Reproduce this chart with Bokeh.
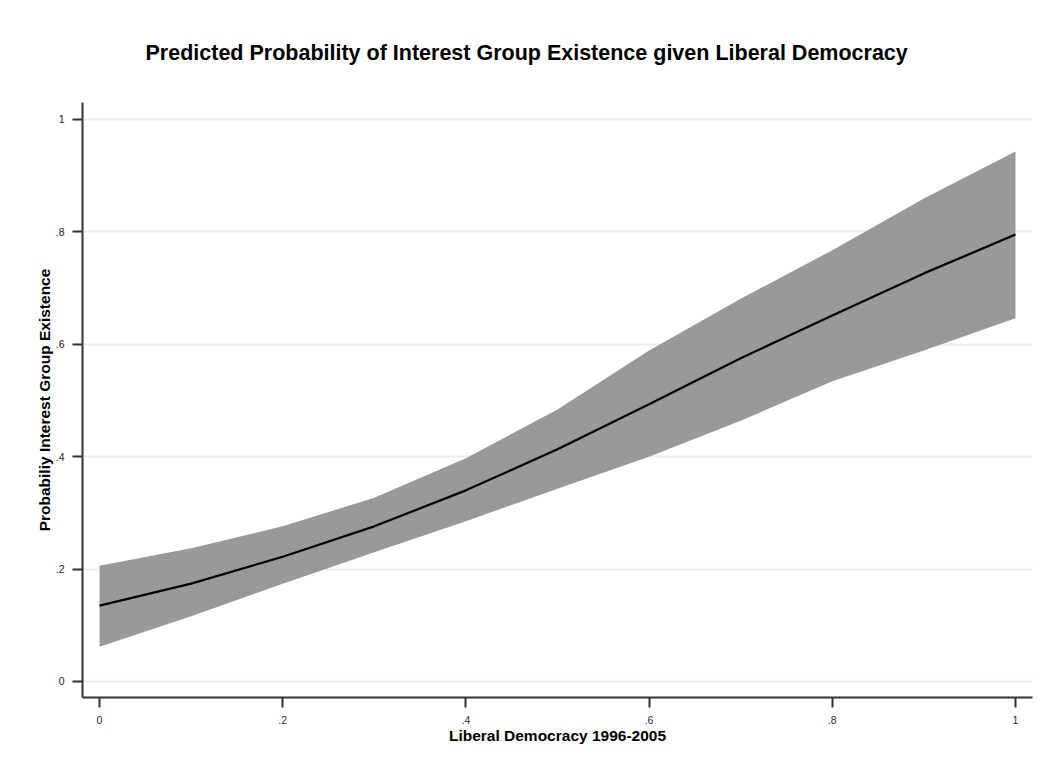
from bokeh.plotting import figure
from bokeh.models import Range1d, FixedTicker, CustomJSTickFormatter, Title
from bokeh.embed import file_html
from bokeh.resources import INLINE

# Data
lib_dem = [0.0, 0.1, 0.2, 0.3, 0.4, 0.5, 0.6, 0.7, 0.8, 0.9, 1.0]
prob_mean = [0.135, 0.174, 0.222, 0.276, 0.340, 0.413, 0.493, 0.575, 0.651, 0.726, 0.795]
prob_upper = [0.206, 0.237, 0.276, 0.327, 0.397, 0.484, 0.589, 0.681, 0.767, 0.859, 0.943]
prob_lower = [0.062, 0.116, 0.174, 0.230, 0.285, 0.343, 0.400, 0.464, 0.534, 0.589, 0.646]
ticks = [0, 0.2, 0.4, 0.6, 0.8, 1.0]

p = figure(width=1040, height=766, output_backend="svg", toolbar_location=None,
           x_range=Range1d(-0.0186, 1.0186), y_range=Range1d(-0.0285, 1.030),
           min_border_left=82, min_border_right=8, min_border_top=102, min_border_bottom=69)
p.outline_line_color = None
p.background_fill_color = "white"
p.border_fill_color = "white"

p.title = Title(text="Predicted Probability of Interest Group Existence given Liberal Democracy",
                align="left", text_font="Liberation Sans", text_font_size="21.5px",
                text_font_style="bold", text_color="black", offset=63, standoff=76)

p.varea(x=lib_dem, y1=prob_lower, y2=prob_upper, fill_color="#999999", fill_alpha=1.0)
p.line(x=lib_dem, y=prob_mean, line_color="black", line_width=2.2)

fmt = CustomJSTickFormatter(code="""
if (tick == 0) return '0';
if (Math.abs(tick - 1) < 1e-9) return '1';
return tick.toFixed(1).replace(/^0/, '');
""")

for ax in (p.xaxis[0], p.yaxis[0]):
    ax.ticker = FixedTicker(ticks=ticks)
    ax.formatter = fmt
    ax.minor_tick_line_color = None
    ax.major_tick_in = 0
    ax.major_tick_out = 10
    ax.axis_line_color = "#333333"
    ax.axis_line_width = 2
    ax.major_tick_line_color = "#333333"
    ax.major_tick_line_width = 2
    ax.major_label_text_font = "Liberation Sans"
    ax.major_label_text_font_size = "10.5px"
    ax.axis_label_text_font = "Liberation Sans"
    ax.axis_label_text_font_size = "15.5px"
    ax.axis_label_text_font_style = "bold"
    ax.axis_label_text_color = "black"

p.xaxis.axis_label = "Liberal Democracy 1996-2005"
p.yaxis.axis_label = "Probabiliy Interest Group Existence"
p.xaxis.major_label_text_color = "#1e2a5c"
p.yaxis.major_label_text_color = "#222222"
p.xaxis.major_label_standoff = 8
p.xaxis.axis_label_standoff = 0
p.yaxis.major_label_standoff = 8
p.yaxis.axis_label_standoff = 0

p.xgrid.grid_line_color = None
p.ygrid.ticker = FixedTicker(ticks=ticks)
p.ygrid.grid_line_color = "#e6f0f2"
p.ygrid.grid_line_width = 2

open("out.html", "w").write(file_html(p, INLINE))
